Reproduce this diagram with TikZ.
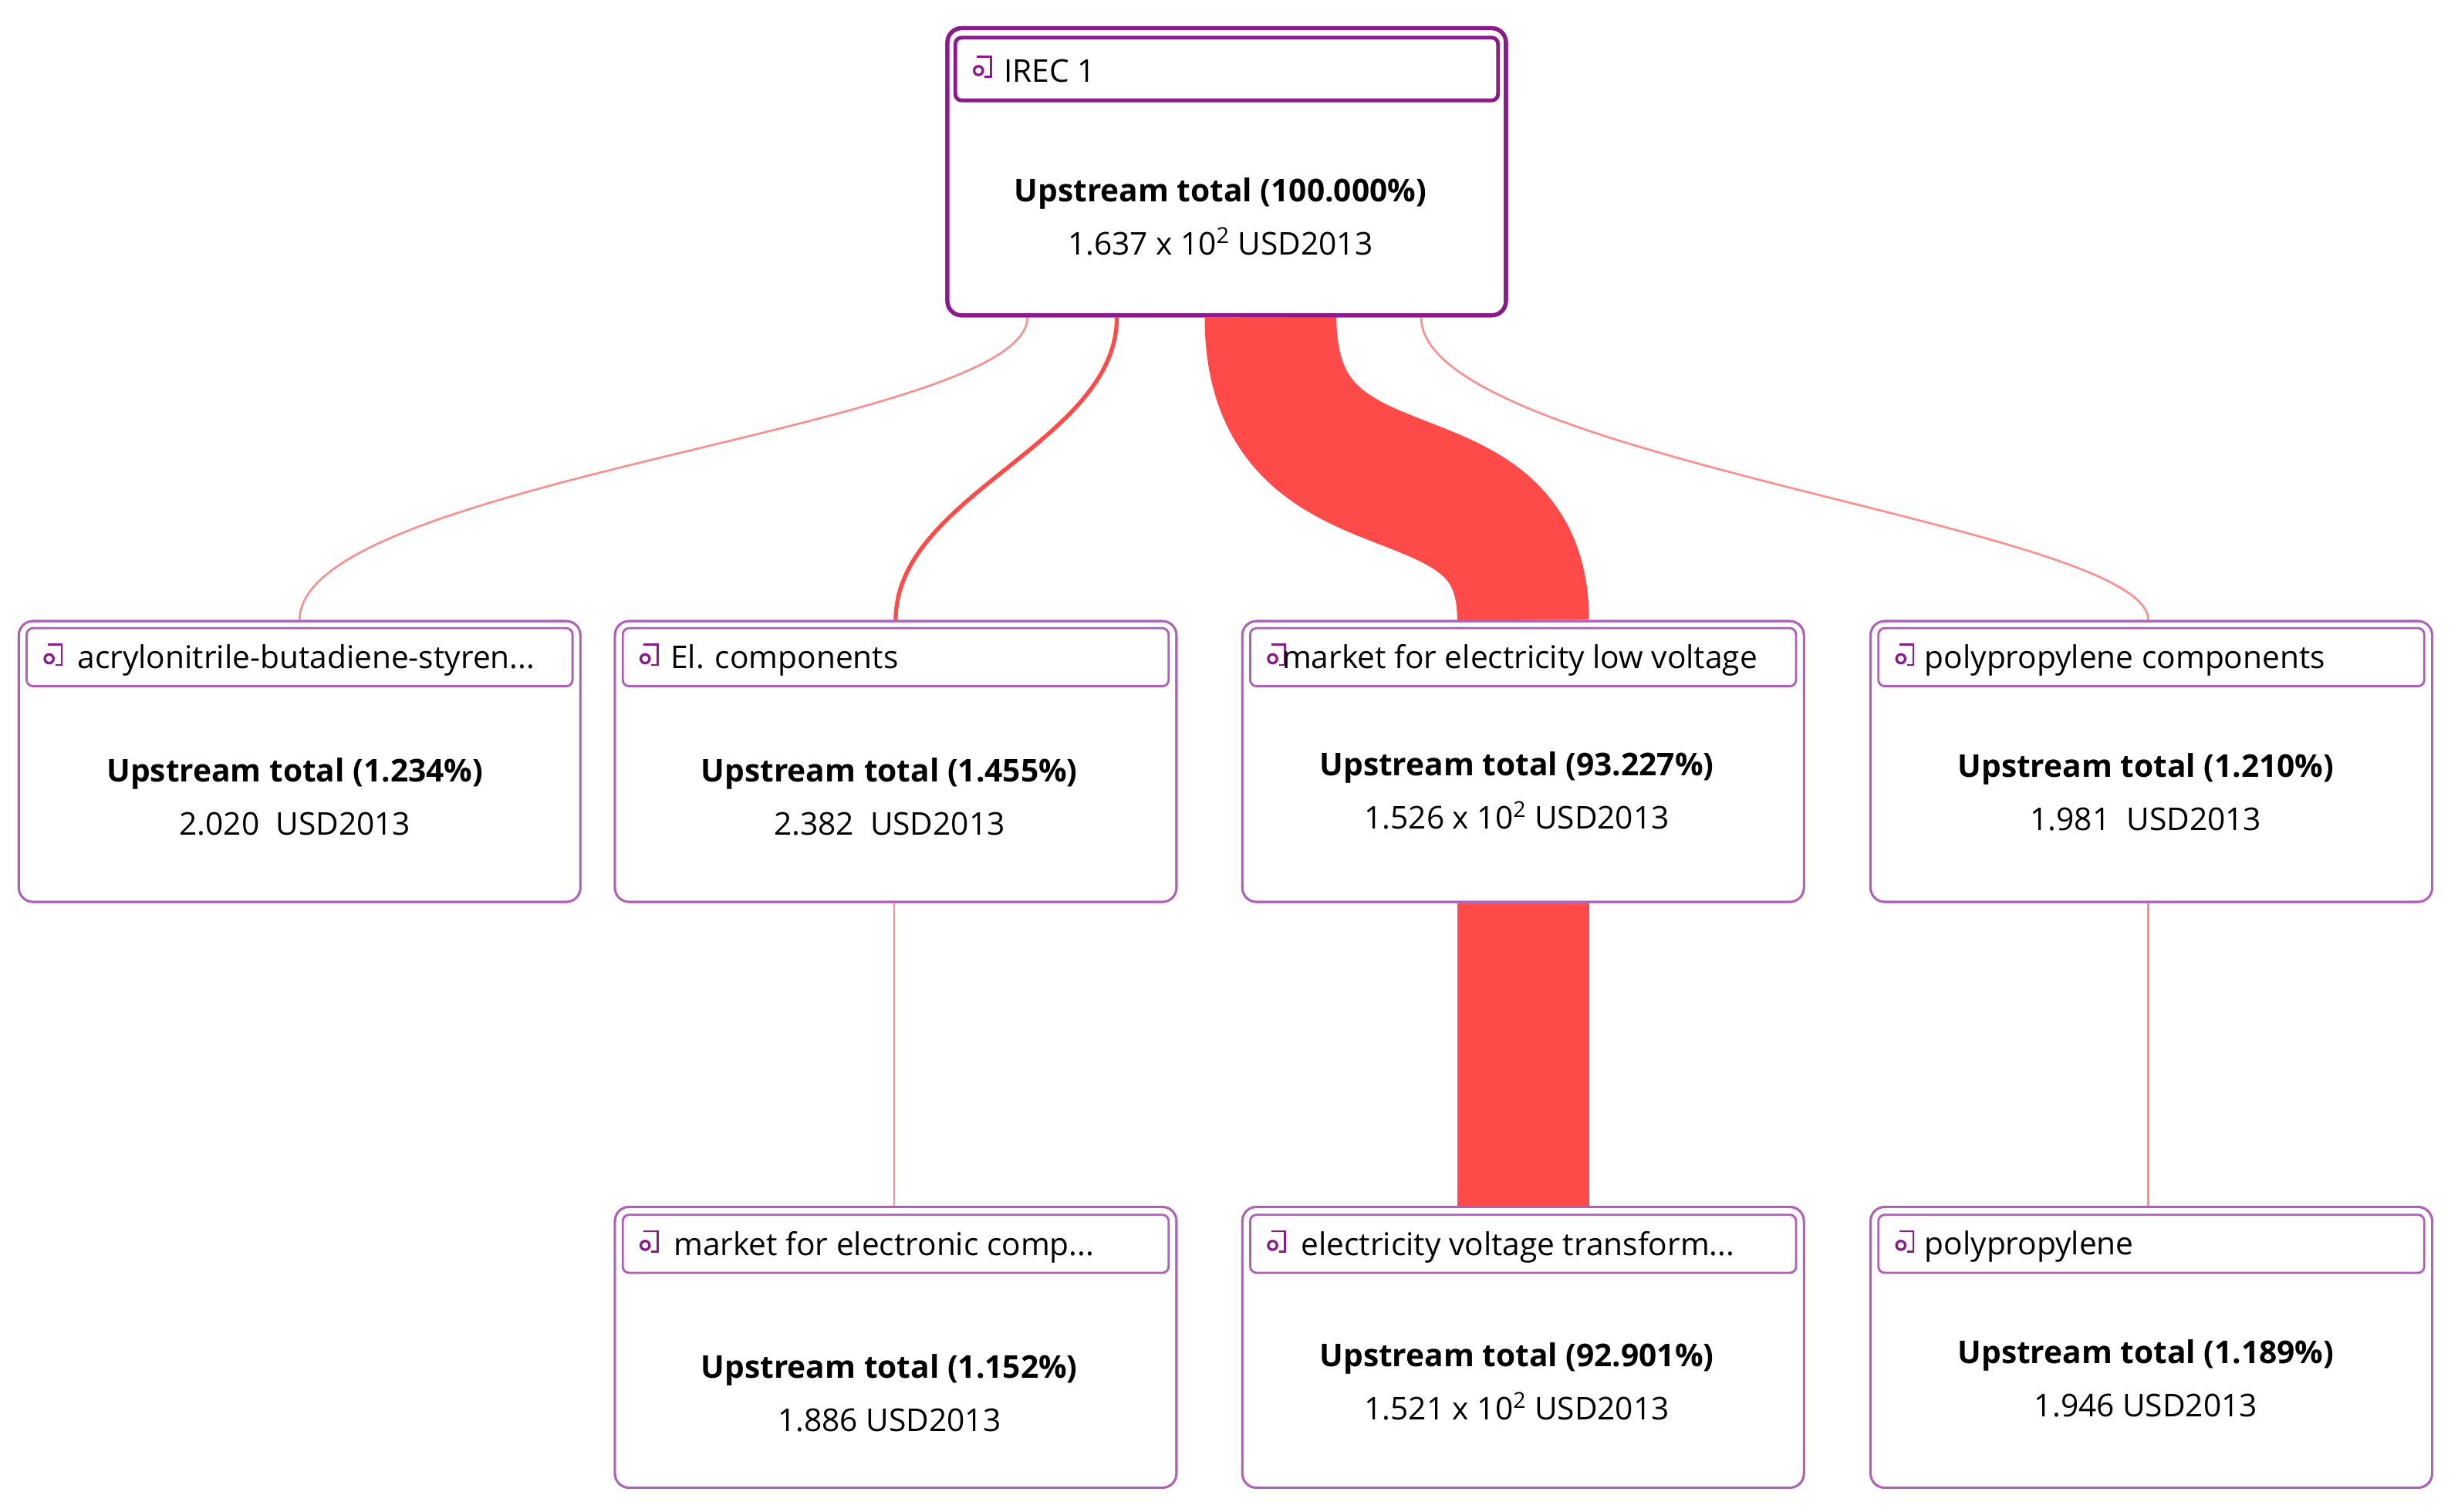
\documentclass[tikz,border=0pt]{standalone}
\usepackage{fontspec}
\setmainfont{Open Sans}
\usetikzlibrary{calc}
\definecolor{pur}{HTML}{8B1A8B}
\definecolor{lpur}{HTML}{B060B8}
\definecolor{thick}{HTML}{FF4A4A}
\definecolor{thin}{HTML}{F89090}
\begin{document}
\begin{tikzpicture}[x=1pt,y=-1pt,
  box/.style={draw=lpur,line width=1.4pt,rounded corners=9pt,minimum width=358pt,minimum height=179pt,inner sep=0pt},
  topbox/.style={box,draw=pur,line width=2.6pt,minimum width=356pt,minimum height=183pt},
  hdr/.style={draw=lpur,line width=1.4pt,rounded corners=4pt,minimum width=348pt,minimum height=37pt,inner sep=0pt},
  tophdr/.style={hdr,draw=pur,line width=2.4pt,minimum width=346pt,minimum height=40pt},
  title/.style={anchor=west,font=\fontsize{20}{24}\selectfont,inner sep=0pt},
  val/.style={align=center,font=\fontsize{20}{34}\selectfont,inner sep=0pt},
  thinc/.style={draw=thin,line width=1.3pt},
  midc/.style={draw=thick,line width=2.6pt},
  fatc/.style={draw=thick,line width=84pt}]
\useasboundingbox (0,0) rectangle (1567,964);
\newcommand{\icon}[1]{%
  \draw[pur,line width=1.3pt] ($(#1)+(-2,-7)$) -- ($(#1)+(7,-7)$) -- ($(#1)+(7,6)$) -- ($(#1)+(3,6)$);
  \draw[pur,line width=1.6pt] ($(#1)+(-1,2)$) circle (2.8);}
% boxes
\node[topbox] (top) at (782,109.5) {};
\node[box] (a) at (191,485.5) {};
\node[box] (b) at (571,485.5) {};
\node[box] (c) at (971,485.5) {};
\node[box] (d) at (1371.5,485.5) {};
\node[box] (b3) at (571,859) {};
\node[box] (c3) at (971,859) {};
\node[box] (d3) at (1371.5,859) {};
% connectors
\draw[fatc] ($(top.south)+(28,0)$) .. controls ($(top.south)+(28,140)$) and ($(c.north)+(0,-120)$) .. (c.north);
\draw[fatc] (c.south) -- (c3.north);
\draw[thinc] ($(top.south)+(-127,0)$) .. controls ($(top.south)+(-127,70)$) and ($(a.north)+(0,-90)$) .. (a.north);
\draw[midc] ($(top.south)+(-70,0)$) .. controls ($(top.south)+(-70,80)$) and ($(b.north)+(0,-80)$) .. (b.north);
\draw[thinc] ($(top.south)+(124,0)$) .. controls ($(top.south)+(124,90)$) and ($(d.north)+(-2,-60)$) .. ($(d.north)+(-2,0)$);
\draw[thinc] ($(b.south)+(-1,0)$) -- ($(b3.north)+(-1,0)$);
\draw[thinc] ($(d.south)+(-2,0)$) -- ($(d3.north)+(-2,0)$);
% redraw boxes fill white already handled by drawing order: refill
\foreach \n in {top,a,b,c,d,b3,c3,d3}{\fill[white,rounded corners=8pt] ($(\n.north west)+(1.5,1.5)$) rectangle ($(\n.south east)+(-1.5,-1.5)$);}
\node[topbox] at (top) {};
\foreach \n in {a,b,c,d,b3,c3,d3}{\node[box] at (\n) {};}
% headers
\node[tophdr] (toph) at (782,44) {};
\node[hdr] (ah) at (191,419) {};
\node[hdr] (bh) at (571,419) {};
\node[hdr] (ch) at (971,419) {};
\node[hdr] (dh) at (1371.5,419) {};
\node[hdr] (b3h) at (571,793) {};
\node[hdr] (c3h) at (971,793) {};
\node[hdr] (d3h) at (1371.5,793) {};
\coordinate (i0) at ($(toph.west)+(17,-1)$); \icon{i0}
\foreach \n in {ah,bh,ch,dh,b3h,c3h,d3h}{\coordinate (ic) at ($(\n.west)+(16,-1)$); \icon{ic}}
\node[title] (t0) at ($(toph.west)+(32,1)$) {IREC 1};
\node[title] (t1) at ($(ah.west)+(33,2)$) {acrylonitrile-butadiene-styren...};
\node[title] (t2) at ($(bh.west)+(31,2)$) {El. components};
\node[title] (t3) at ($(ch.west)+(21,2)$) {market for electricity low voltage};
\node[title] (t4) at ($(dh.west)+(30,2)$) {polypropylene components};
\node[title] (t5) at ($(b3h.west)+(33,2)$) {market for electronic comp...};
\node[title] (t6) at ($(c3h.west)+(33,2)$) {electricity voltage transform...};
\node[title] (t7) at ($(d3h.west)+(30,2)$) {polypropylene};
% values
\node[val] (v0) at (778,138) {\textbf{Upstream total (100.000\%)}\\1.637 x 10\textsuperscript{2} USD2013};
\node[val] (v1) at (188,508) {\textbf{Upstream total (1.234\%)}\\2.020~ USD2013};
\node[val] (v2) at (567,508) {\textbf{Upstream total (1.455\%)}\\2.382~ USD2013};
\node[val] (v3) at (967,504) {\textbf{Upstream total (93.227\%)}\\1.526 x 10\textsuperscript{2} USD2013};
\node[val] (v4) at (1368,505) {\textbf{Upstream total (1.210\%)}\\1.981~ USD2013};
\node[val] (v5) at (567,888) {\textbf{Upstream total (1.152\%)}\\1.886 USD2013};
\node[val] (v6) at (967,881) {\textbf{Upstream total (92.901\%)}\\1.521 x 10\textsuperscript{2} USD2013};
\node[val] (v7) at (1368,879) {\textbf{Upstream total (1.189\%)}\\1.946 USD2013};
\end{tikzpicture}
\end{document}
